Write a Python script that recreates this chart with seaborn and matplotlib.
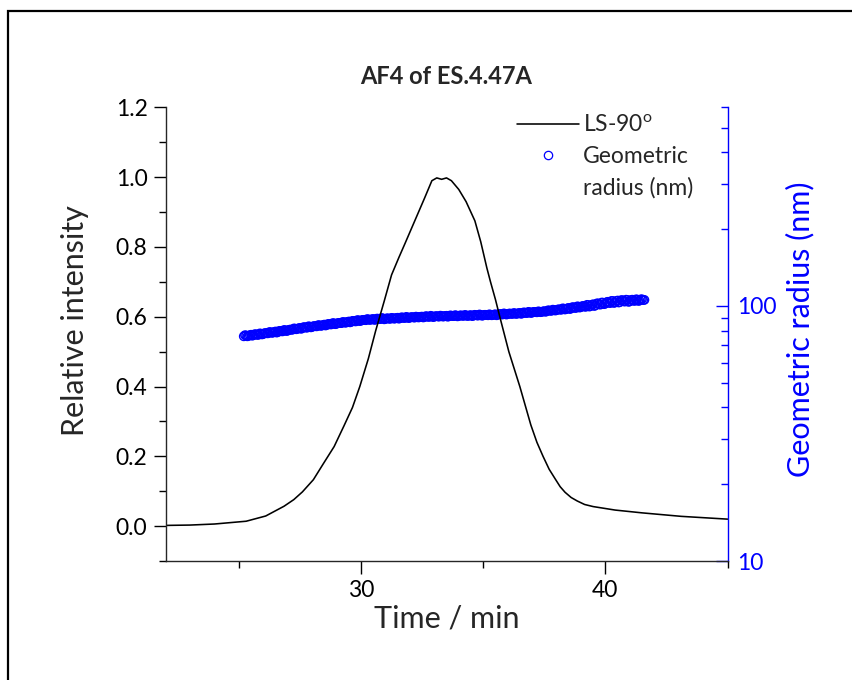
import numpy as np
import pandas as pd
import matplotlib
matplotlib.use("Agg")
import matplotlib.pyplot as plt
import seaborn as sns
from matplotlib.lines import Line2D
from matplotlib.patches import Rectangle
from matplotlib.ticker import FixedLocator, MultipleLocator, LogLocator, FuncFormatter, NullFormatter

# ---------------- data ----------------
title = "AF4 of ES.4.47A"
x_label = "Time / min"
y_label_left = "Relative intensity"
y_label_right = "Geometric radius (nm)"

ls_time = [22.0, 23.0, 24.0, 25.3, 26.1, 26.85, 27.25, 27.6, 28.05, 28.45, 28.9, 29.3,
           29.65, 29.95, 30.3, 30.6, 30.95, 31.25, 31.55, 31.8, 32.2, 32.6, 32.9, 33.1,
           33.3, 33.5, 33.7, 34.0, 34.3, 34.66, 34.9, 35.15, 35.3, 35.5, 35.68, 36.05,
           36.5, 36.95, 37.2, 37.45, 37.7, 37.95, 38.15, 38.35, 38.6, 38.85, 39.15,
           39.5, 40.4, 41.5, 43.1, 45.0]
ls_intensity = [0.002, 0.003, 0.006, 0.014, 0.029, 0.057, 0.076, 0.098, 0.133, 0.178, 0.228, 0.287,
                0.34, 0.40, 0.48, 0.56, 0.645, 0.72, 0.77, 0.81, 0.875, 0.94, 0.99, 0.998,
                0.994, 0.998, 0.99, 0.965, 0.93, 0.875, 0.815, 0.74, 0.70, 0.65, 0.60, 0.50,
                0.40, 0.29, 0.24, 0.20, 0.163, 0.135, 0.113, 0.097, 0.082, 0.072, 0.062,
                0.056, 0.046, 0.038, 0.028, 0.020]

# geometric radius, first sweep (every 0.1 min)
rg_time_a = [25.2, 25.3, 25.4, 25.5, 25.6, 25.7, 25.8, 25.9, 26.0, 26.1,
             26.2, 26.3, 26.4, 26.5, 26.6, 26.7, 26.8, 26.9, 27.0, 27.1,
             27.2, 27.3, 27.4, 27.5, 27.6, 27.7, 27.8, 27.9, 28.0, 28.1,
             28.2, 28.3, 28.4, 28.5, 28.6, 28.7, 28.8, 28.9, 29.0, 29.1,
             29.2, 29.3, 29.4, 29.5, 29.6, 29.7, 29.8, 29.9, 30.0, 30.1,
             30.2, 30.3, 30.4, 30.5, 30.6, 30.7, 30.8, 30.9, 31.0, 31.1,
             31.2, 31.3, 31.4, 31.5, 31.6, 31.7, 31.8, 31.9, 32.0, 32.1,
             32.2, 32.3, 32.4, 32.5, 32.6, 32.7, 32.8, 32.9, 33.0, 33.1,
             33.2, 33.3, 33.4, 33.5, 33.6, 33.7, 33.8, 33.9, 34.0, 34.1,
             34.2, 34.3, 34.4, 34.5, 34.6, 34.7, 34.8, 34.9, 35.0, 35.1,
             35.2, 35.3, 35.4, 35.5, 35.6, 35.7, 35.8, 35.9, 36.0, 36.1,
             36.2, 36.3, 36.4, 36.5, 36.6, 36.7, 36.8, 36.9, 37.0, 37.1,
             37.2, 37.3, 37.4, 37.5, 37.6, 37.7, 37.8, 37.9, 38.0, 38.1,
             38.2, 38.3, 38.4, 38.5, 38.6, 38.7, 38.8, 38.9, 39.0, 39.1,
             39.2, 39.3, 39.4, 39.5, 39.6, 39.7, 39.8, 39.9, 40.0, 40.1,
             40.2, 40.3, 40.4, 40.5, 40.6, 40.7, 40.8, 40.9, 41.0, 41.1,
             41.2, 41.3, 41.4, 41.5, 41.6]
rg_radius_a = [76.0, 76.6, 76.3, 77.1, 76.8, 77.4, 77.0, 77.9, 77.6, 78.3,
               78.1, 78.9, 78.6, 79.4, 79.0, 79.8, 79.5, 80.3, 80.0, 80.8,
               80.7, 81.5, 81.3, 82.0, 81.8, 82.5, 82.2, 83.0, 82.7, 83.4,
               83.2, 84.0, 83.7, 84.5, 84.2, 84.9, 84.7, 85.4, 85.1, 85.8,
               85.6, 86.4, 86.1, 86.9, 86.6, 87.3, 87.0, 87.8, 87.5, 88.2,
               87.9, 88.6, 88.3, 88.9, 88.5, 89.1, 88.8, 89.3, 88.9, 89.4,
               89.0, 89.6, 89.3, 89.9, 89.5, 90.1, 89.7, 90.2, 89.9, 90.4,
               90.0, 90.6, 90.3, 90.8, 90.5, 91.0, 90.6, 91.1, 90.7, 91.2,
               90.8, 91.3, 91.0, 91.5, 91.1, 91.6, 91.2, 91.7, 91.3, 91.8,
               91.4, 91.9, 91.5, 92.0, 91.6, 92.1, 91.7, 92.2, 91.8, 92.3,
               91.9, 92.4, 92.1, 92.7, 92.3, 92.9, 92.6, 93.1, 92.8, 93.4,
               93.0, 93.5, 93.3, 93.9, 93.5, 94.2, 93.8, 94.5, 94.1, 94.8,
               94.4, 95.0, 94.8, 95.4, 95.3, 96.0, 95.7, 96.5, 96.2, 97.0,
               96.6, 97.6, 97.2, 98.2, 97.8, 98.8, 98.2, 99.4, 98.9, 100.0,
               99.2, 100.8, 100.0, 101.5, 100.6, 102.3, 101.2, 103.0, 102.1, 103.8,
               102.6, 104.6, 103.2, 105.0, 103.6, 105.3, 104.0, 105.5, 104.2, 105.8,
               104.6, 106.0, 104.9, 106.2, 105.6]

# geometric radius, points in between (offset 0.05 min)
rg_time_b = [25.25, 25.35, 25.45, 25.55, 25.65, 25.75, 25.85, 25.95, 26.05, 26.15,
             26.25, 26.35, 26.45, 26.55, 26.65, 26.75, 26.85, 26.95, 27.05, 27.15,
             27.25, 27.35, 27.45, 27.55, 27.65, 27.75, 27.85, 27.95, 28.05, 28.15,
             28.25, 28.35, 28.45, 28.55, 28.65, 28.75, 28.85, 28.95, 29.05, 29.15,
             29.25, 29.35, 29.45, 29.55, 29.65, 29.75, 29.85, 29.95, 30.05, 30.15,
             30.25, 30.35, 30.45, 30.55, 30.65, 30.75, 30.85, 30.95, 31.05, 31.15,
             31.25, 31.35, 31.45, 31.55, 31.65, 31.75, 31.85, 31.95, 32.05, 32.15,
             32.25, 32.35, 32.45, 32.55, 32.65, 32.75, 32.85, 32.95, 33.05, 33.15,
             33.25, 33.35, 33.45, 33.55, 33.65, 33.75, 33.85, 33.95, 34.05, 34.15,
             34.25, 34.35, 34.45, 34.55, 34.65, 34.75, 34.85, 34.95, 35.05, 35.15,
             35.25, 35.35, 35.45, 35.55, 35.65, 35.75, 35.85, 35.95, 36.05, 36.15,
             36.25, 36.35, 36.45, 36.55, 36.65, 36.75, 36.85, 36.95, 37.05, 37.15,
             37.25, 37.35, 37.45, 37.55, 37.65, 37.75, 37.85, 37.95, 38.05, 38.15,
             38.25, 38.35, 38.45, 38.55, 38.65, 38.75, 38.85, 38.95, 39.05, 39.15,
             39.25, 39.35, 39.45, 39.55, 39.65, 39.75, 39.85, 39.95, 40.05, 40.15,
             40.25, 40.35, 40.45, 40.55, 40.65, 40.75, 40.85, 40.95, 41.05, 41.15,
             41.25, 41.35, 41.45, 41.55]
rg_radius_b = [76.8, 76.0, 76.8, 76.4, 77.5, 77.0, 78.0, 77.3, 78.2, 78.1,
               79.0, 78.4, 79.1, 78.6, 79.8, 79.5, 80.5, 79.7, 80.6, 80.6,
               81.6, 81.0, 81.8, 81.3, 82.6, 82.2, 83.2, 82.4, 83.3, 83.2,
               84.1, 83.5, 84.2, 83.8, 85.0, 84.6, 85.7, 84.8, 85.7, 85.6,
               86.5, 85.9, 86.6, 86.2, 87.4, 87.0, 88.0, 87.2, 88.1, 88.0,
               88.8, 88.1, 88.7, 88.1, 89.2, 88.8, 89.7, 88.6, 89.4, 89.1,
               89.8, 89.1, 89.7, 89.1, 90.2, 89.7, 90.6, 89.6, 90.4, 90.1,
               90.8, 90.1, 90.7, 90.1, 91.2, 90.6, 91.5, 90.4, 91.2, 90.9,
               91.6, 90.8, 91.4, 90.7, 91.8, 91.2, 92.0, 91.0, 91.8, 91.5,
               92.2, 91.3, 91.9, 91.2, 92.3, 91.7, 92.6, 91.5, 92.3, 92.0,
               92.7, 91.9, 92.5, 91.9, 93.0, 92.6, 93.5, 92.5, 93.3, 93.1,
               93.8, 93.0, 93.7, 93.1, 94.3, 93.8, 94.8, 93.8, 94.7, 94.5,
               95.2, 94.5, 95.2, 94.8, 96.1, 95.7, 96.7, 95.9, 96.8, 96.7,
               97.8, 96.8, 97.9, 97.2, 98.9, 98.2, 99.6, 98.5, 99.8, 99.4,
               101.0, 99.4, 101.1, 99.9, 102.3, 101.4, 103.1, 101.6, 103.4, 102.9,
               104.6, 102.7, 104.6, 103.1, 105.4, 104.2, 105.8, 103.7, 105.5, 104.9,
               106.1, 104.6, 106.1, 105.4]

x_major_ticks = [30, 40]
x_minor_ticks = [25, 35, 45]
y_left_ticks = [0.0, 0.2, 0.4, 0.6, 0.8, 1.0, 1.2]
y_right_ticks = [10, 100]

ls_label = "LS-90$^\\mathregular{o}$"
rg_label_1 = "Geometric"
rg_label_2 = "radius (nm)"

# ---------------- style ----------------
sns.set_style("ticks")
plt.rcParams["font.family"] = ["Lato", "DejaVu Sans"]
plt.rcParams["axes.linewidth"] = 1.0

BLUE = "#0000FF"

fig = plt.figure(figsize=(8.52, 6.80), dpi=100)
fig.subplots_adjust(left=0.1943, right=0.8539, bottom=0.175, top=0.842)
ax1 = fig.add_subplot(111)
ax2 = ax1.twinx()

ls_df = pd.DataFrame({"time": ls_time, "intensity": ls_intensity})
rg_df = pd.DataFrame({"time": rg_time_a + rg_time_b,
                      "radius": rg_radius_a + rg_radius_b}).sort_values("time")

sns.scatterplot(data=rg_df, x="time", y="radius", ax=ax2, marker="o", s=36,
                color=BLUE, legend=False)
pts = ax2.collections[0]
pts.set_facecolor("none")
pts.set_edgecolor(BLUE)
pts.set_linewidth(1.0)

sns.lineplot(data=ls_df, x="time", y="intensity", ax=ax1, color="black",
             linewidth=1.15, estimator=None, sort=False, legend=False)

# line above the scatter
ax1.set_zorder(ax2.get_zorder() + 1)
ax1.patch.set_visible(False)

# ---------------- axes ----------------
ax1.set_xlim(22, 45)
ax1.set_ylim(-0.1, 1.2)
ax2.set_yscale("log")
ax2.set_ylim(10, 600)

ax1.xaxis.set_major_locator(FixedLocator(x_major_ticks))
ax1.xaxis.set_minor_locator(FixedLocator(x_minor_ticks))
ax1.yaxis.set_major_locator(FixedLocator(y_left_ticks))
ax1.yaxis.set_minor_locator(MultipleLocator(0.1))
ax1.yaxis.set_major_formatter(FuncFormatter(lambda v, p: f"{v:.1f}"))

ax2.yaxis.set_major_locator(FixedLocator(y_right_ticks))
ax2.yaxis.set_minor_locator(LogLocator(base=10, subs=np.arange(2, 10)))
ax2.yaxis.set_major_formatter(FuncFormatter(lambda v, p: f"{v:g}"))
ax2.yaxis.set_minor_formatter(NullFormatter())

ax1.tick_params(axis="both", which="major", direction="out", length=9, width=1.0,
                labelsize=16.5, color="black", labelcolor="black")
ax1.tick_params(axis="both", which="minor", direction="out", length=5, width=1.0, color="black")
ax1.tick_params(axis="y", which="major", pad=4)
ax1.tick_params(axis="x", which="major", pad=5)
ax2.tick_params(axis="y", which="major", direction="in", length=9, width=1.0,
                labelsize=16.5, color=BLUE, labelcolor=BLUE, pad=7)
ax2.tick_params(axis="y", which="minor", direction="in", length=5, width=1.0, color=BLUE)

for s in ["top", "right"]:
    ax1.spines[s].set_visible(False)
for s in ["top", "left", "bottom"]:
    ax2.spines[s].set_visible(False)
ax2.spines["right"].set_color(BLUE)
ax2.spines["right"].set_linewidth(1.0)

ax1.set_xlabel(x_label, fontsize=22, labelpad=2)
ax1.set_ylabel(y_label_left, fontsize=22, labelpad=19)
ax1.yaxis.label.set_y(0.53)
ax2.set_ylabel(y_label_right, fontsize=22, color=BLUE, rotation=90, labelpad=6.5)
ax2.yaxis.label.set_y(0.51)
ax1.set_title(title, fontsize=17, fontweight="bold", pad=17)

# ---------------- legend ----------------
handles = [Line2D([], [], color="black", linewidth=1.15),
           Line2D([], [], linestyle="none", marker="o", markerfacecolor="none",
                  markeredgecolor=BLUE, markersize=6, markeredgewidth=0.9),
           Line2D([], [], linestyle="none")]
labels = [ls_label, rg_label_1, rg_label_2]
ax1.legend(handles, labels, loc="upper left", bbox_to_anchor=(0.622, 0.99),
           frameon=False, fontsize=16.5, handlelength=2.7, handletextpad=0.15,
           borderaxespad=0.0, borderpad=0.1, labelspacing=0.45)

# figure border
fig.patches.append(Rectangle((8 / 852, -0.2), 1.5, 0.2 + (1 - 11 / 680),
                             transform=fig.transFigure, fill=False,
                             edgecolor="black", linewidth=1.6, zorder=10))

fig.savefig("out.png", dpi=100)
